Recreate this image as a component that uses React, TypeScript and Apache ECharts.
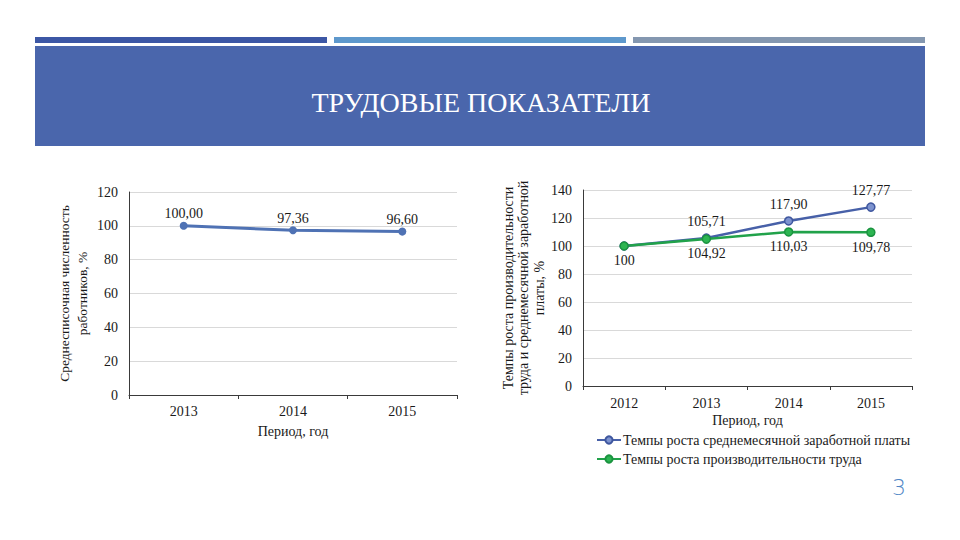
import React, { useEffect, useRef } from "react";
import * as echarts from "echarts";

const leftYears = ["2013", "2014", "2015"];
const leftHeadcount = [100.0, 97.36, 96.6];

const rightYears = ["2012", "2013", "2014", "2015"];
const wageGrowth = [100, 105.71, 117.9, 127.77];
const productivityGrowth = [100, 104.92, 110.03, 109.78];

const titleText = "ТРУДОВЫЕ ПОКАЗАТЕЛИ";
const xAxisName = "Период, год";
const leftYName = "Среднесписочная численность\nработников, %";
const rightYName = "Темпы роста производительности\nтруда и среднемесячной заработной\nплаты, %";
const wageName = "Темпы роста среднемесячной заработной платы";
const prodName = "Темпы роста производительности труда";
const pageNumber = "3";

const SERIF = "Liberation Serif";

const fmt = (v: number) => v.toFixed(2).replace(".", ",");

export default function App() {
  const ref = useRef<HTMLDivElement>(null);
  useEffect(() => {
    if (!ref.current) return;
    const chart = echarts.init(ref.current, undefined, { renderer: "svg" });
    const txt = { fontFamily: SERIF, fontSize: 14, color: "#1a1a1a" };
    const axisLine = { show: true, lineStyle: { color: "#3a3a3a", width: 1 } };
    const splitLine = { show: true, lineStyle: { color: "#d9d9d9", width: 1 } };
    chart.setOption({
      animation: false,
      backgroundColor: "#ffffff",
      textStyle: { fontFamily: SERIF },
      graphic: [
        { type: "rect", shape: { x: 35, y: 37, width: 292, height: 6 }, style: { fill: "#3c57a5" } },
        { type: "rect", shape: { x: 334, y: 37, width: 292, height: 6 }, style: { fill: "#5e98cc" } },
        { type: "rect", shape: { x: 633, y: 37, width: 292, height: 6 }, style: { fill: "#8497b0" } },
        { type: "rect", shape: { x: 35, y: 46, width: 890, height: 100 }, style: { fill: "#4a66ac" } },
        {
          type: "text",
          x: 481,
          y: 102,
          style: {
            text: titleText,
            fill: "#ffffff",
            font: "28px Liberation Serif",
            align: "center",
            verticalAlign: "middle",
          },
        },
        {
          type: "text",
          x: 899,
          y: 487,
          style: {
            text: pageNumber,
            fill: "#4f86c6",
            fontFamily: "DejaVu Sans",
            fontSize: 22,
            fontWeight: 300,
            align: "center",
            verticalAlign: "middle",
          },
        },
      ],
      grid: [
        { left: 129, top: 192, width: 328, height: 203 },
        { left: 583, top: 190, width: 329, height: 196 },
      ],
      xAxis: [
        {
          gridIndex: 0,
          type: "category",
          data: leftYears,
          boundaryGap: true,
          axisLine,
          axisTick: { show: true, length: 4, lineStyle: { color: "#3a3a3a" } },
          axisLabel: { ...txt, margin: 9 },
          name: xAxisName,
          nameLocation: "middle",
          nameGap: 29,
          nameTextStyle: txt,
        },
        {
          gridIndex: 1,
          type: "category",
          data: rightYears,
          boundaryGap: true,
          axisLine,
          axisTick: { show: true, length: 4, lineStyle: { color: "#3a3a3a" } },
          axisLabel: { ...txt, margin: 10 },
          name: xAxisName,
          nameLocation: "middle",
          nameGap: 27,
          nameTextStyle: txt,
        },
      ],
      yAxis: [
        {
          gridIndex: 0,
          type: "value",
          min: 0,
          max: 120,
          interval: 20,
          axisLine,
          axisTick: { show: false },
          splitLine,
          axisLabel: { ...txt, margin: 11 },
          name: leftYName,
          nameLocation: "middle",
          nameRotate: 90,
          nameGap: 38,
          nameTextStyle: { ...txt, fontSize: 13.5, lineHeight: 18 },
        },
        {
          gridIndex: 1,
          type: "value",
          min: 0,
          max: 140,
          interval: 20,
          axisLine,
          axisTick: { show: false },
          splitLine,
          axisLabel: { ...txt, margin: 11 },
          name: rightYName,
          nameLocation: "middle",
          nameRotate: 90,
          nameGap: 36,
          nameTextStyle: { ...txt, lineHeight: 15.5 },
        },
      ],
      legend: {
        left: 591,
        top: 428,
        orient: "vertical",
        itemGap: 5,
        itemWidth: 24,
        itemHeight: 9,
        textStyle: { ...txt, padding: [0, 0, 0, -3] },
        data: [wageName, prodName],
      },
      series: [
        {
          type: "line",
          xAxisIndex: 0,
          yAxisIndex: 0,
          data: leftHeadcount,
          symbol: "circle",
          symbolSize: 8,
          lineStyle: { color: "#4f72b4", width: 3 },
          itemStyle: { color: "#4f72b4" },
          label: {
            show: true,
            position: "top",
            distance: 1,
            ...txt,
            formatter: (p: any) => fmt(p.value),
          },
        },
        {
          name: wageName,
          type: "line",
          xAxisIndex: 1,
          yAxisIndex: 1,
          data: wageGrowth,
          symbol: "circle",
          symbolSize: 8,
          lineStyle: { color: "#4760a8", width: 2.5 },
          itemStyle: { color: "#7d93cf", borderColor: "#3f579f", borderWidth: 1.5 },
          label: {
            show: true,
            position: "top",
            distance: 5,
            ...txt,
            formatter: (p: any) => (p.dataIndex === 0 ? "" : fmt(p.value)),
          },
        },
        {
          name: prodName,
          type: "line",
          xAxisIndex: 1,
          yAxisIndex: 1,
          data: productivityGrowth,
          symbol: "circle",
          symbolSize: 8,
          lineStyle: { color: "#21a24a", width: 2.5 },
          itemStyle: { color: "#2db552", borderColor: "#1b9440", borderWidth: 1.5 },
          label: {
            show: true,
            position: "bottom",
            distance: 3,
            ...txt,
            formatter: (p: any) => (p.dataIndex === 0 ? String(p.value) : fmt(p.value)),
          },
        },
      ],
    });
    return () => chart.dispose();
  }, []);
  return (
    <div
      ref={ref}
      style={{ position: "fixed", left: 0, top: 0, width: 960, height: 540 }}
    />
  );
}
